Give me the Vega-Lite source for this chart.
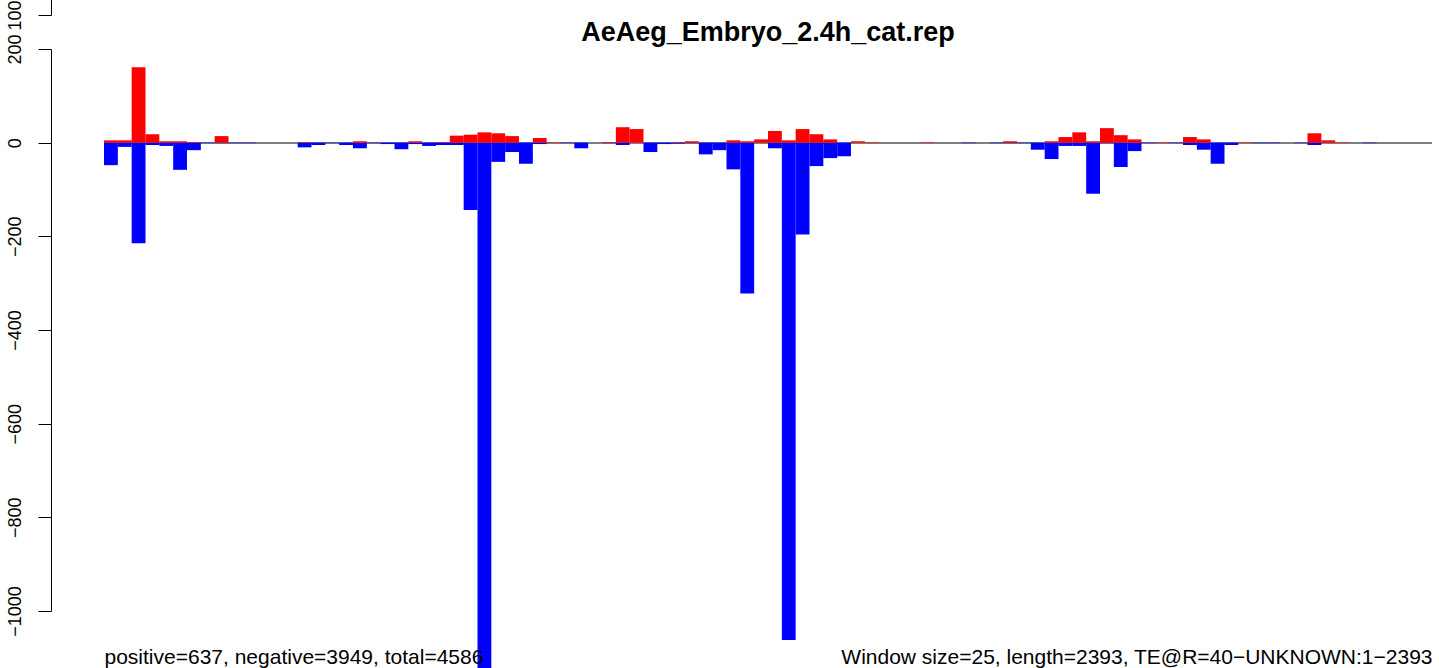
{
  "$schema": "https://vega.github.io/schema/vega-lite/v6.json",
  "width": 1328,
  "height": 562,
  "autosize": {"type": "none"},
  "padding": {"left": 104, "top": 49, "right": 7, "bottom": 57},
  "background": "white",
  "config": {"view": {"stroke": null}, "font": "Liberation Sans"},
  "title": {
    "text": "AeAeg_Embryo_2.4h_cat.rep",
    "font": "Liberation Sans",
    "fontSize": 27,
    "fontWeight": "bold",
    "color": "black",
    "anchor": "middle",
    "frame": "group",
    "baseline": "alphabetic",
    "offset": 0,
    "dy": 615
  },
  "data": {
    "values": [
      {"w": 0, "pos": 5, "neg": -48},
      {"w": 1, "pos": 5, "neg": -9},
      {"w": 2, "pos": 161, "neg": -215},
      {"w": 3, "pos": 18, "neg": -5},
      {"w": 4, "pos": 3, "neg": -7},
      {"w": 5, "pos": 3, "neg": -58},
      {"w": 6, "pos": 1, "neg": -16},
      {"w": 7, "pos": 0, "neg": -1},
      {"w": 8, "pos": 14, "neg": -1},
      {"w": 9, "pos": 0, "neg": -1},
      {"w": 10, "pos": 0, "neg": -1},
      {"w": 11, "pos": 0, "neg": 0},
      {"w": 12, "pos": 0, "neg": 0},
      {"w": 13, "pos": 0, "neg": 0},
      {"w": 14, "pos": 1, "neg": -10},
      {"w": 15, "pos": 0, "neg": -5},
      {"w": 16, "pos": 0, "neg": -1},
      {"w": 17, "pos": 0, "neg": -5},
      {"w": 18, "pos": 3, "neg": -12},
      {"w": 19, "pos": 0, "neg": -1},
      {"w": 20, "pos": 0, "neg": -3},
      {"w": 21, "pos": 0, "neg": -14},
      {"w": 22, "pos": 3, "neg": -3},
      {"w": 23, "pos": 0, "neg": -7},
      {"w": 24, "pos": 1, "neg": -5},
      {"w": 25, "pos": 15, "neg": -5},
      {"w": 26, "pos": 17, "neg": -144},
      {"w": 27, "pos": 22, "neg": -1180},
      {"w": 28, "pos": 20, "neg": -41},
      {"w": 29, "pos": 14, "neg": -20},
      {"w": 30, "pos": 0, "neg": -45},
      {"w": 31, "pos": 10, "neg": -3},
      {"w": 32, "pos": 1, "neg": 0},
      {"w": 33, "pos": 0, "neg": -1},
      {"w": 34, "pos": 0, "neg": -12},
      {"w": 35, "pos": 0, "neg": 0},
      {"w": 36, "pos": 1, "neg": -1},
      {"w": 37, "pos": 33, "neg": -5},
      {"w": 38, "pos": 29, "neg": 0},
      {"w": 39, "pos": 0, "neg": -20},
      {"w": 40, "pos": 0, "neg": -3},
      {"w": 41, "pos": 1, "neg": -2},
      {"w": 42, "pos": 3, "neg": -1},
      {"w": 43, "pos": 0, "neg": -25},
      {"w": 44, "pos": 0, "neg": -16},
      {"w": 45, "pos": 5, "neg": -57},
      {"w": 46, "pos": 3, "neg": -322},
      {"w": 47, "pos": 7, "neg": 0},
      {"w": 48, "pos": 25, "neg": -12},
      {"w": 49, "pos": 5, "neg": -1062},
      {"w": 50, "pos": 29, "neg": -196},
      {"w": 51, "pos": 18, "neg": -50},
      {"w": 52, "pos": 7, "neg": -33},
      {"w": 53, "pos": 0, "neg": -29},
      {"w": 54, "pos": 3, "neg": 0},
      {"w": 55, "pos": 1, "neg": 0},
      {"w": 56, "pos": 0, "neg": 0},
      {"w": 57, "pos": 0, "neg": 0},
      {"w": 58, "pos": 0, "neg": 0},
      {"w": 59, "pos": 1, "neg": 0},
      {"w": 60, "pos": 0, "neg": 0},
      {"w": 61, "pos": 0, "neg": 0},
      {"w": 62, "pos": 0, "neg": -1},
      {"w": 63, "pos": 0, "neg": 0},
      {"w": 64, "pos": 0, "neg": -1},
      {"w": 65, "pos": 3, "neg": -1},
      {"w": 66, "pos": 0, "neg": -1},
      {"w": 67, "pos": 0, "neg": -15},
      {"w": 68, "pos": 3, "neg": -35},
      {"w": 69, "pos": 12, "neg": -7},
      {"w": 70, "pos": 22, "neg": -7},
      {"w": 71, "pos": 3, "neg": -109},
      {"w": 72, "pos": 31, "neg": -1},
      {"w": 73, "pos": 16, "neg": -52},
      {"w": 74, "pos": 7, "neg": -18},
      {"w": 75, "pos": 0, "neg": -1},
      {"w": 76, "pos": 1, "neg": 0},
      {"w": 77, "pos": 0, "neg": -1},
      {"w": 78, "pos": 12, "neg": -5},
      {"w": 79, "pos": 7, "neg": -15},
      {"w": 80, "pos": 0, "neg": -45},
      {"w": 81, "pos": 0, "neg": -5},
      {"w": 82, "pos": 1, "neg": 0},
      {"w": 83, "pos": 0, "neg": -1},
      {"w": 84, "pos": 0, "neg": -1},
      {"w": 85, "pos": 0, "neg": 0},
      {"w": 86, "pos": 0, "neg": -1},
      {"w": 87, "pos": 20, "neg": -5},
      {"w": 88, "pos": 5, "neg": 0},
      {"w": 89, "pos": 1, "neg": 0},
      {"w": 90, "pos": 0, "neg": 0},
      {"w": 91, "pos": 0, "neg": -1},
      {"w": 92, "pos": 0, "neg": 0},
      {"w": 93, "pos": 0, "neg": 0},
      {"w": 94, "pos": 0, "neg": 0},
      {"w": 95, "pos": 0, "neg": 0}
    ]
  },
  "resolve": {
    "scale": {"x": "independent", "y": "independent"},
    "axis": {"x": "independent", "y": "independent"}
  },
  "layer": [
    {
      "mark": {"type": "rule", "color": "#808080", "strokeWidth": 1.5},
      "encoding": {
        "y": {
          "datum": 0,
          "type": "quantitative",
          "scale": {"domain": [-1000, 200], "nice": false, "zero": false},
          "axis": {
            "orient": "left",
            "title": null,
            "offset": 53,
            "position": -596,
            "values": [-1000],
            "labelExpr": "'100'",
            "labelAngle": 270,
            "labelFontSize": 18,
            "labelFont": "Liberation Sans",
            "labelColor": "black",
            "labelPadding": 14,
            "labelOverlap": false,
            "labelBound": false,
            "labelFlush": false,
            "tickColor": "black",
            "tickSize": 13,
            "tickWidth": 1,
            "domainColor": "black",
            "domainWidth": 1,
            "grid": false
          }
        }
      }
    },
    {
      "mark": {"type": "bar", "color": "#0000FF"},
      "encoding": {
        "x": {
          "field": "w",
          "type": "ordinal",
          "scale": {"paddingInner": 0, "paddingOuter": 0},
          "axis": {
            "orient": "bottom",
            "zindex": 2,
            "domain": false,
            "ticks": false,
            "labels": false,
            "grid": false,
            "title": "positive=637, negative=3949, total=4586",
            "titleAnchor": "start",
            "titleAlign": "left",
            "titleBaseline": "alphabetic",
            "titleFont": "Liberation Sans",
            "titleFontSize": 21,
            "titleFontWeight": "normal",
            "titleColor": "black",
            "titlePadding": 52
          }
        },
        "y": {
          "field": "neg",
          "type": "quantitative",
          "scale": {"domain": [-1000, 200], "nice": false, "zero": false},
          "axis": {
            "orient": "left",
            "title": null,
            "offset": 53,
            "values": [-1000, -800, -600, -400, -200, 0, 200],
            "labelExpr": "replace(format(datum.value, 'd'), '-', '−')",
            "labelAngle": 270,
            "labelFontSize": 18,
            "labelFont": "Liberation Sans",
            "labelColor": "black",
            "labelPadding": 14,
            "labelOverlap": false,
            "labelBound": false,
            "labelFlush": false,
            "tickColor": "black",
            "tickSize": 13,
            "tickWidth": 1,
            "domainColor": "black",
            "domainWidth": 1,
            "grid": false
          }
        },
        "y2": {"datum": 0}
      }
    },
    {
      "mark": {"type": "bar", "color": "#FF0000"},
      "encoding": {
        "x": {
          "field": "w",
          "type": "ordinal",
          "scale": {"paddingInner": 0, "paddingOuter": 0},
          "axis": {
            "orient": "bottom",
            "zindex": 2,
            "domain": false,
            "ticks": false,
            "labels": false,
            "grid": false,
            "title": "Window size=25, length=2393, TE@R=40−UNKNOWN:1−2393",
            "titleAnchor": "end",
            "titleAlign": "right",
            "titleBaseline": "alphabetic",
            "titleFont": "Liberation Sans",
            "titleFontSize": 21,
            "titleFontWeight": "normal",
            "titleColor": "black",
            "titlePadding": 52
          }
        },
        "y": {
          "field": "pos",
          "type": "quantitative",
          "scale": {"domain": [-1000, 200], "nice": false, "zero": false},
          "axis": null
        },
        "y2": {"datum": 0}
      }
    }
  ]
}
